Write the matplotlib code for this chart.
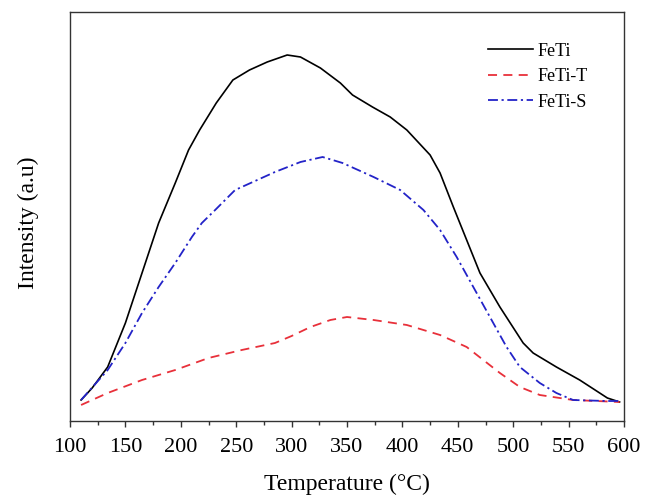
import matplotlib
matplotlib.use("Agg")
import matplotlib.pyplot as plt
from matplotlib.ticker import MultipleLocator, NullLocator

# ---- data ----
t_feti = [110, 120, 134, 150, 165, 180, 195, 207, 217, 232, 247, 262, 278, 296, 308,
          326, 344, 355, 373, 389, 404, 425, 434, 446, 458, 470, 488, 509, 518, 539,
          560, 585, 596]
i_feti = [21, 33, 54, 98, 148, 198, 238, 271, 291, 318, 341, 351, 359, 366, 364,
          353, 338, 326, 314, 304, 291, 266, 248, 214, 181, 148, 114, 78, 68, 54,
          41, 23, 19]

t_fetit = [110, 134, 165, 195, 225, 255, 285, 300, 317, 335, 350, 374, 404, 434,
           458, 473, 488, 506, 524, 554, 596]
i_fetit = [16, 28, 41, 51, 63, 71, 78, 85, 94, 101, 104, 101, 96, 86,
           74, 61, 48, 34, 26, 21, 19]

t_fetis = [110, 134, 150, 165, 180, 195, 210, 219, 231, 249, 273, 285, 308, 328,
           346, 374, 398, 419, 434, 449, 464, 479, 494, 506, 524, 539, 554, 584, 596]
i_fetis = [21, 51, 78, 108, 134, 158, 184, 198, 211, 231, 243, 249, 259, 264,
           258, 244, 231, 211, 191, 164, 134, 104, 74, 54, 38, 28, 21, 20, 20]

labels = ["FeTi", "FeTi-T", "FeTi-S"]
xticks = [100, 150, 200, 250, 300, 350, 400, 450, 500, 550, 600]

plt.rcParams['font.family'] = ['Liberation Serif', 'DejaVu Serif']

fig = plt.figure(figsize=(6.45, 4.96), dpi=100)
ax = fig.add_axes([70/645, 1 - 421/496, 554/645, 409/496])

ax.plot(t_feti, i_feti, color='black', lw=1.2, label=labels[0])
ax.plot(t_fetit, i_fetit, color='#e8303a', lw=1.3, dashes=(5, 3.5), label=labels[1])
ax.plot(t_fetis, i_fetis, color='#2323c8', lw=1.3, dashes=(5.5, 2, 1.2, 2), label=labels[2])

ax.set_xlim(100, 600)
ax.set_ylim(0, 409)
ax.set_xticks(xticks)
ax.xaxis.set_minor_locator(MultipleLocator(25))
ax.yaxis.set_major_locator(NullLocator())
ax.tick_params(axis='x', which='major', direction='out', length=4, width=1.0,
               labelsize=16, pad=8, color='#333333')
ax.tick_params(axis='x', which='minor', direction='out', length=3, width=1.0,
               color='#333333')
for s in ax.spines.values():
    s.set_linewidth(1.0)
    s.set_color('#333333')

ax.set_xlabel("Temperature (°C)", fontsize=17, labelpad=12)
ax.set_ylabel("Intensity (a.u)", fontsize=17)
ax.yaxis.set_label_coords(-0.056, 0.484)

leg = ax.legend(loc='upper left', bbox_to_anchor=(0.7545, 0.925), frameon=False,
                fontsize=13, handlelength=2.5, handletextpad=0.25,
                labelspacing=0.47, borderpad=0, borderaxespad=0)

fig.savefig("out.png", dpi=100)
